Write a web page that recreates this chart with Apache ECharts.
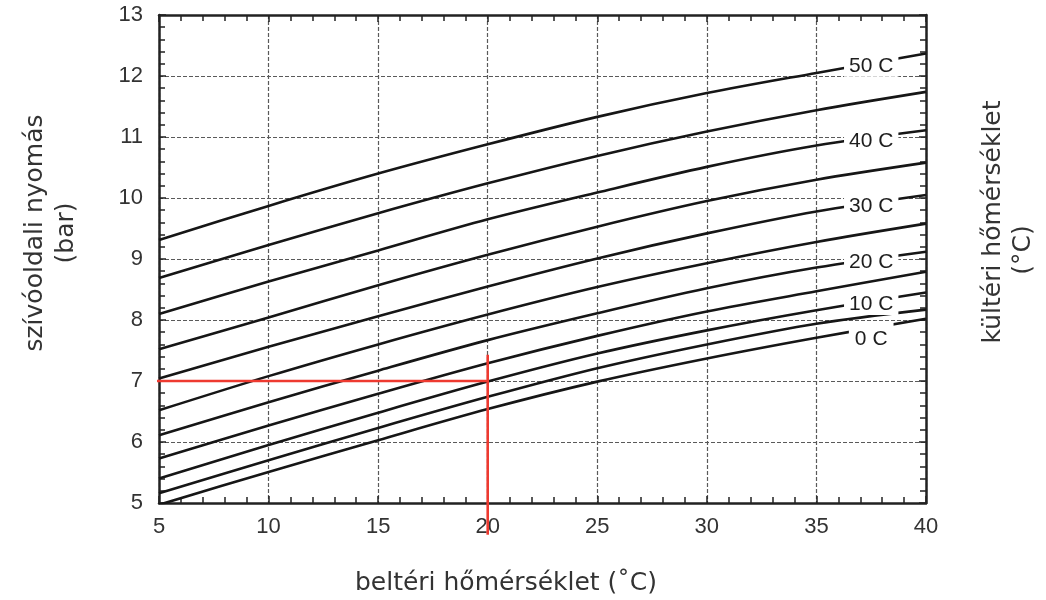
<!DOCTYPE html>
<html>
<head>
<meta charset="utf-8">
<script src="https://cdn.jsdelivr.net/npm/echarts@6/dist/echarts.min.js"></script>
<style>
html,body{margin:0;padding:0;background:#fff;}
#chart{width:1046px;height:600px;}
</style>
</head>
<body>
<div id="chart"></div>
<script>
// indoor temperature (x) sample positions
const indoorTemps = [5, 10, 15, 20, 25, 30, 35, 40];
// outdoor temperature curves (°C)
const outdoorTemps = [0, 5, 10, 15, 20, 25, 30, 35, 40, 45, 50];
// suction pressure (bar) per outdoor temperature curve
const p0  = [4.97, 5.51, 6.03, 6.54, 6.99, 7.37, 7.71, 8.02];
const p5  = [5.16, 5.70, 6.23, 6.74, 7.21, 7.60, 7.94, 8.17];
const p10 = [5.40, 5.95, 6.48, 6.99, 7.45, 7.83, 8.16, 8.45];
const p15 = [5.73, 6.27, 6.79, 7.29, 7.74, 8.14, 8.47, 8.79];
const p20 = [6.11, 6.65, 7.17, 7.67, 8.11, 8.52, 8.86, 9.12];
const p25 = [6.52, 7.08, 7.60, 8.09, 8.54, 8.93, 9.28, 9.58];
const p30 = [7.04, 7.56, 8.06, 8.55, 9.01, 9.42, 9.78, 10.05];
const p35 = [7.52, 8.04, 8.57, 9.07, 9.53, 9.95, 10.30, 10.58];
const p40 = [8.10, 8.63, 9.14, 9.65, 10.09, 10.51, 10.86, 11.11];
const p45 = [8.69, 9.23, 9.75, 10.24, 10.69, 11.09, 11.44, 11.74];
const p50 = [9.31, 9.87, 10.40, 10.88, 11.33, 11.72, 12.05, 12.37];
const curves = [p0, p5, p10, p15, p20, p25, p30, p35, p40, p45, p50];
// labelled curves
const labelledTemps = [0, 10, 20, 30, 40, 50];
const labelX = 37.5;
// example reading (red guide): indoor 20 °C -> 7 bar
const redHorizontal = [[4.55, 7], [20, 7]];
const redVertical = [[20, 7.43], [20, 4.48]];

const NUM_FONT = 'Liberation Sans';
const chart = echarts.init(document.getElementById('chart'), null, {renderer: 'canvas'});

function valueAt(arr, x) {
  for (let i = 0; i < indoorTemps.length - 1; i++) {
    const a = indoorTemps[i], b = indoorTemps[i + 1];
    if (x >= a && x <= b) return arr[i] + (arr[i + 1] - arr[i]) * (x - a) / (b - a);
  }
  return arr[arr.length - 1];
}

const series = curves.map((arr, i) => ({
  name: outdoorTemps[i] + ' C',
  type: 'line',
  data: arr.map((v, j) => [indoorTemps[j], v]),
  smooth: 0.3,
  symbol: 'none',
  lineStyle: {color: '#161616', width: 2.6},
  z: 3
}));

series.push({
  type: 'scatter',
  symbolSize: 0,
  itemStyle: {color: '#fff', opacity: 1},
  z: 6,
  data: labelledTemps.map(t => {
    const arr = curves[outdoorTemps.indexOf(t)];
    const isZero = t === 0;
    return {
      name: t + ' C',
      value: [labelX, valueAt(arr, labelX)],
      label: {
        show: true,
        position: 'inside',
        formatter: '{b}',
        offset: isZero ? [0, 11] : [0, 3],
        backgroundColor: '#fff',
        padding: isZero ? [12, 6, 0, 6] : [0, 5, 0, 5],
        color: '#1e1e1e',
        opacity: 1,
        fontSize: 21,
        fontFamily: NUM_FONT
      }
    };
  })
});

series.push({
  type: 'line', data: redHorizontal, clip: false, symbol: 'none', silent: true,
  lineStyle: {color: '#ee3a30', width: 2.6}, z: 8
});
series.push({
  type: 'line', data: redVertical, clip: false, symbol: 'none', silent: true,
  lineStyle: {color: '#ee3a30', width: 2.6}, z: 8
});

const axisLineStyle = {show: true, lineStyle: {color: '#222', width: 2.5}};
const gridLineStyle = {show: true, lineStyle: {color: '#5a5a5a', width: 1.2, type: [4, 2]}};
const tickStyle = {show: true, inside: true, length: 7, lineStyle: {color: '#222', width: 1.5}};
const minorStyle = {show: true, splitNumber: 5, length: 6, lineStyle: {color: '#222', width: 1.5}};
const labelStyle = {color: '#333', fontSize: 22, fontFamily: NUM_FONT};

const option = {
  animation: false,
  backgroundColor: '#fff',
  grid: {left: 159, right: 120, top: 15, bottom: 97},
  xAxis: [
    {type: 'value', min: 5, max: 40, interval: 5, position: 'bottom',
     axisLine: axisLineStyle, axisTick: tickStyle, minorTick: minorStyle,
     splitLine: gridLineStyle,
     axisLabel: Object.assign({margin: 13}, labelStyle)},
    {type: 'value', min: 5, max: 40, interval: 5, position: 'top',
     axisLine: axisLineStyle, axisTick: tickStyle, minorTick: minorStyle,
     splitLine: {show: false}, axisLabel: {show: false}}
  ],
  yAxis: [
    {type: 'value', min: 5, max: 13, interval: 1, position: 'left',
     axisLine: axisLineStyle, axisTick: tickStyle, minorTick: minorStyle,
     splitLine: gridLineStyle,
     axisLabel: Object.assign({margin: 16}, labelStyle)},
    {type: 'value', min: 5, max: 13, interval: 1, position: 'right',
     axisLine: axisLineStyle, axisTick: tickStyle, minorTick: minorStyle,
     splitLine: {show: false}, axisLabel: {show: false}}
  ],
  graphic: [
    {type: 'text', x: 506, y: 583,
     style: {text: 'beltéri hőmérséklet (˚C)', fill: '#333', font: '25px "DejaVu Sans"', textAlign: 'center', textVerticalAlign: 'middle'}},
    {type: 'text', x: 35, y: 233, rotation: Math.PI / 2,
     style: {text: 'szívóoldali nyomás', fill: '#333', font: '25px "DejaVu Sans"', textAlign: 'center', textVerticalAlign: 'middle'}},
    {type: 'text', x: 66, y: 233, rotation: Math.PI / 2,
     style: {text: '(bar)', fill: '#333', font: '25px "DejaVu Sans"', textAlign: 'center', textVerticalAlign: 'middle'}},
    {type: 'text', x: 993, y: 222, rotation: Math.PI / 2,
     style: {text: 'kültéri hőmérséklet', fill: '#333', font: '25px "DejaVu Sans"', textAlign: 'center', textVerticalAlign: 'middle'}},
    {type: 'text', x: 1023, y: 250, rotation: Math.PI / 2,
     style: {text: '(°C)', fill: '#333', font: '25px "DejaVu Sans"', textAlign: 'center', textVerticalAlign: 'middle'}}
  ],
  series: series
};
chart.setOption(option);
</script>
</body>
</html>
